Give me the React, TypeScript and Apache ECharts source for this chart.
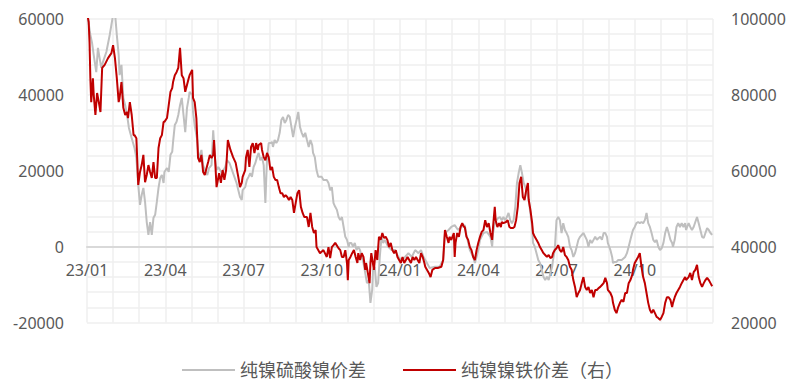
import React, { useEffect, useRef } from "react";
import * as echarts from "echarts";

const tickLabels = ["23/01", "23/04", "23/07", "23/10", "24/01", "24/04", "24/07", "24/10"];
const seriesNames = ["纯镍硫酸镍价差", "纯镍镍铁价差（右）"];

// 纯镍硫酸镍价差 (left axis)
const sulfateSpread: [string, number][] = [
  ["2023-01-01",61800],["2023-01-05",55800],["2023-01-07",53700],["2023-01-09",50500],["2023-01-12",46000],["2023-01-14",52400],["2023-01-16",49700],["2023-01-18",47100],["2023-01-20",48700],["2023-01-24",51300],["2023-01-28",55800],
  ["2023-02-01",61100],["2023-02-03",61800],["2023-02-05",55800],["2023-02-07",50500],["2023-02-08",45200],["2023-02-10",47900],["2023-02-12",39200],["2023-02-14",37300],["2023-02-16",34700],["2023-02-18",31300],["2023-02-21",28600],["2023-02-24",26000],["2023-02-26",23400],["2023-02-28",16300],
  ["2023-03-02",11000],["2023-03-04",13600],["2023-03-06",15500],["2023-03-08",11800],["2023-03-10",6500],["2023-03-12",3100],["2023-03-14",6500],["2023-03-16",3100],["2023-03-18",7600],["2023-03-20",8400],["2023-03-22",11800],["2023-03-24",15500],["2023-03-26",18100],["2023-03-28",18900],["2023-03-30",16800],["2023-03-31",19700],
  ["2023-04-03",20700],["2023-04-05",19700],["2023-04-07",24200],["2023-04-09",25000],["2023-04-10",27600],["2023-04-12",32100],["2023-04-14",32900],["2023-04-16",34700],["2023-04-18",37300],["2023-04-20",39200],["2023-04-22",34700],["2023-04-24",30200],["2023-04-26",36500],["2023-04-28",39200],["2023-04-29",40800],
  ["2023-05-02",40000],["2023-05-03",35500],["2023-05-05",32000],["2023-05-08",28100],["2023-05-10",22800],["2023-05-13",25500],["2023-05-15",21500],["2023-05-17",20200],["2023-05-20",18900],["2023-05-22",20700],["2023-05-25",21500],["2023-05-27",30700],["2023-05-29",23600],["2023-05-31",20200],
  ["2023-06-02",21000],["2023-06-04",20200],["2023-06-06",19400],["2023-06-08",20200],["2023-06-10",21000],["2023-06-12",22800],["2023-06-15",22000],["2023-06-19",19400],["2023-06-23",16800],["2023-06-27",13100],["2023-06-29",12300],["2023-06-30",14900],
  ["2023-07-03",15700],["2023-07-05",17600],["2023-07-07",18400],["2023-07-09",19400],["2023-07-11",18400],["2023-07-13",21000],["2023-07-15",22000],["2023-07-17",23600],["2023-07-19",24700],["2023-07-21",22800],["2023-07-23",23600],["2023-07-25",21500],["2023-07-27",11500],["2023-07-29",23600],["2023-07-31",27300],
  ["2023-08-02",27300],["2023-08-04",27600],["2023-08-05",26300],["2023-08-07",28100],["2023-08-09",27300],["2023-08-11",28100],["2023-08-13",30000],["2023-08-15",33400],["2023-08-17",34200],["2023-08-19",32600],["2023-08-21",33400],["2023-08-23",34700],["2023-08-25",34200],["2023-08-27",31500],["2023-08-29",28900],["2023-08-31",31500],
  ["2023-09-02",33400],["2023-09-04",35500],["2023-09-06",31500],["2023-09-08",30000],["2023-09-10",28900],["2023-09-12",30000],["2023-09-14",28100],["2023-09-16",26300],["2023-09-18",28100],["2023-09-20",26800],["2023-09-21",24700],["2023-09-23",23600],["2023-09-25",20200],["2023-09-27",18400],["2023-09-29",18400],
  ["2023-10-01",18400],["2023-10-03",17600],["2023-10-07",17600],["2023-10-09",16800],["2023-10-11",14900],["2023-10-13",15700],["2023-10-15",11500],["2023-10-17",10500],["2023-10-19",9700],["2023-10-21",7800],["2023-10-23",7000],["2023-10-25",7800],["2023-10-27",5200],["2023-10-29",2600],["2023-10-31",1800],
  ["2023-11-02",0],["2023-11-03",1000],["2023-11-05",1000],["2023-11-07",0],["2023-11-09",1000],["2023-11-11",-900],["2023-11-13",0],["2023-11-15",-900],["2023-11-17",-2700],["2023-11-19",-4300],["2023-11-21",-6900],["2023-11-23",-9600],["2023-11-25",-8800],["2023-11-27",-14800],["2023-11-29",-11400],["2023-11-30",-6100],
  ["2023-12-02",-5300],["2023-12-04",-10600],["2023-12-06",-9600],["2023-12-08",-2700],["2023-12-10",2600],["2023-12-12",1000],["2023-12-14",1800],["2023-12-18",0],["2023-12-22",-900],["2023-12-26",-900],["2023-12-30",-2700],
  ["2024-01-03",-3500],["2024-01-07",-2700],["2024-01-11",-1700],["2024-01-15",-2700],["2024-01-19",-900],["2024-01-23",-1700],["2024-01-26",-900],["2024-01-29",-2700],
  ["2024-02-02",-4300],["2024-02-05",-5600],["2024-02-11",-5300],["2024-02-16",-5300],["2024-02-20",-3500],["2024-02-22",3600],["2024-02-26",4400],["2024-02-29",5200],
  ["2024-03-04",5700],["2024-03-08",4400],["2024-03-12",5200],["2024-03-16",5700],["2024-03-18",3100],["2024-03-22",-900],["2024-03-26",-2700],["2024-03-28",-4300],["2024-03-30",-2700],
  ["2024-04-01",-900],["2024-04-03",1800],["2024-04-07",3600],["2024-04-11",3900],["2024-04-15",2600],["2024-04-17",0],["2024-04-18",3600],["2024-04-20",6200],["2024-04-22",7000],["2024-04-24",7600],["2024-04-26",7800],["2024-04-28",7000],["2024-04-30",7800],
  ["2024-05-02",7000],["2024-05-04",7800],["2024-05-06",8900],["2024-05-08",7000],["2024-05-10",6200],["2024-05-12",7000],["2024-05-14",10500],["2024-05-16",16800],["2024-05-18",19400],["2024-05-20",21500],["2024-05-22",19400],["2024-05-24",16800],["2024-05-26",15700],["2024-05-28",14100],["2024-05-30",12300],["2024-05-31",10500],
  ["2024-06-03",5200],["2024-06-04",1000],["2024-06-06",0],["2024-06-08",-1700],["2024-06-10",-3500],["2024-06-12",-4300],["2024-06-14",-6100],["2024-06-16",-7900],["2024-06-18",-8800],["2024-06-20",-7900],["2024-06-22",-8800],["2024-06-24",-6900],["2024-06-26",-5300],["2024-06-27",-3500],["2024-06-29",-900],
  ["2024-07-01",7000],["2024-07-03",7800],["2024-07-05",7000],["2024-07-07",3600],["2024-07-09",6200],["2024-07-11",4400],["2024-07-13",3600],["2024-07-15",2600],["2024-07-17",0],["2024-07-19",-900],["2024-07-21",-2700],["2024-07-23",-1700],["2024-07-25",0],["2024-07-27",1800],["2024-07-29",2600],
  ["2024-08-02",3600],["2024-08-06",1800],["2024-08-08",0],["2024-08-10",1800],["2024-08-12",1000],["2024-08-14",1800],["2024-08-16",2600],["2024-08-18",1800],["2024-08-20",2300],["2024-08-22",2600],["2024-08-24",1800],["2024-08-26",3600],["2024-08-28",3600],["2024-08-30",2600],["2024-08-31",1000],
  ["2024-09-03",-900],["2024-09-05",-2700],["2024-09-06",-4300],["2024-09-08",-4000],["2024-09-10",-4000],["2024-09-12",-3500],["2024-09-16",-3500],["2024-09-20",-2700],["2024-09-22",-1700],["2024-09-24",0],["2024-09-26",1800],["2024-09-28",3600],["2024-09-29",4400],
  ["2024-10-01",5200],["2024-10-03",6200],["2024-10-05",6500],["2024-10-07",6200],["2024-10-09",6500],["2024-10-11",6200],["2024-10-13",7000],["2024-10-15",8900],["2024-10-17",6200],["2024-10-19",5200],["2024-10-21",3600],["2024-10-23",1800],["2024-10-25",1200],["2024-10-27",1800],["2024-10-29",0],["2024-10-31",-900],
  ["2024-11-02",-400],["2024-11-04",1000],["2024-11-06",3600],["2024-11-08",5200],["2024-11-10",3600],["2024-11-12",1800],["2024-11-14",1000],["2024-11-15",0],["2024-11-17",1800],["2024-11-19",5200],["2024-11-21",6200],["2024-11-23",5200],["2024-11-25",6200],["2024-11-27",5200],["2024-11-29",6200],["2024-11-30",4400],
  ["2024-12-03",6200],["2024-12-05",5200],["2024-12-07",4400],["2024-12-09",5200],["2024-12-11",6500],["2024-12-13",7800],["2024-12-15",6200],["2024-12-17",4400],["2024-12-19",2600],["2024-12-21",2300],["2024-12-23",3600],["2024-12-25",4900],["2024-12-27",4400],["2024-12-29",3600],["2024-12-31",3100],
];

// 纯镍镍铁价差 (right axis)
const ferroSpread: [string, number][] = [
  ["2023-01-01",101800],["2023-01-03",99200],["2023-01-04",93900],["2023-01-05",84400],["2023-01-06",78100],["2023-01-08",84400],["2023-01-09",80000],["2023-01-11",74700],["2023-01-13",80500],["2023-01-15",78100],["2023-01-17",75500],["2023-01-19",87100],["2023-01-22",87900],["2023-01-26",89700],["2023-01-30",91000],
  ["2023-02-01",93100],["2023-02-03",89700],["2023-02-05",84400],["2023-02-07",78100],["2023-02-08",79200],["2023-02-10",83400],["2023-02-12",76600],["2023-02-14",74700],["2023-02-16",75500],["2023-02-17",73900],["2023-02-19",78100],["2023-02-21",74700],["2023-02-23",69400],["2023-02-24",69400],["2023-02-26",68600],["2023-02-28",56300],
  ["2023-03-02",59700],["2023-03-04",61500],["2023-03-06",64200],["2023-03-08",57000],["2023-03-10",58900],["2023-03-12",61500],["2023-03-14",59700],["2023-03-16",58100],["2023-03-18",62300],["2023-03-20",58100],["2023-03-22",58100],["2023-03-24",66000],["2023-03-26",68600],["2023-03-28",69400],["2023-03-30",72900],["2023-03-31",72900],
  ["2023-04-03",73900],["2023-04-05",77300],["2023-04-07",80800],["2023-04-09",81800],["2023-04-10",83400],["2023-04-12",85200],["2023-04-14",86000],["2023-04-16",87100],["2023-04-18",92400],["2023-04-20",85200],["2023-04-22",84400],["2023-04-24",80800],["2023-04-26",82600],["2023-04-28",84400],["2023-04-29",85200],
  ["2023-05-02",86600],["2023-05-03",79200],["2023-05-05",78100],["2023-05-07",73900],["2023-05-09",63400],["2023-05-11",62300],["2023-05-13",64200],["2023-05-15",59700],["2023-05-17",58900],["2023-05-19",60700],["2023-05-21",62300],["2023-05-23",64200],["2023-05-25",63400],["2023-05-27",64200],["2023-05-28",68100],["2023-05-31",55700],
  ["2023-06-03",59400],["2023-06-05",56800],["2023-06-07",60200],["2023-06-09",57600],["2023-06-11",60200],["2023-06-13",68100],["2023-06-16",65500],["2023-06-19",63600],["2023-06-22",62100],["2023-06-25",58400],["2023-06-27",55700],["2023-06-29",56800],["2023-06-30",58400],
  ["2023-07-03",60200],["2023-07-04",63600],["2023-07-06",65500],["2023-07-08",61000],["2023-07-10",66300],["2023-07-12",67300],["2023-07-14",64700],["2023-07-16",67300],["2023-07-18",65500],["2023-07-19",66800],["2023-07-22",67300],["2023-07-23",65500],["2023-07-25",63600],["2023-07-27",62800],["2023-07-29",64700],["2023-07-31",63600],
  ["2023-08-02",60200],["2023-08-04",61000],["2023-08-06",58400],["2023-08-08",57600],["2023-08-10",57600],["2023-08-12",55700],["2023-08-14",54100],["2023-08-16",54100],["2023-08-18",53100],["2023-08-20",53600],["2023-08-22",53100],["2023-08-24",52300],["2023-08-26",53100],["2023-08-28",52300],["2023-08-30",48900],
  ["2023-09-01",51500],["2023-09-03",54100],["2023-09-05",54900],["2023-09-07",50500],["2023-09-09",48900],["2023-09-11",47800],["2023-09-14",47800],["2023-09-16",45200],["2023-09-18",48900],["2023-09-20",45200],["2023-09-22",43600],["2023-09-24",44400],["2023-09-25",39900],["2023-09-29",38300],
  ["2023-10-03",39100],["2023-10-07",37300],["2023-10-09",39900],["2023-10-11",37000],["2023-10-13",39900],["2023-10-15",40400],["2023-10-17",41000],["2023-10-21",39600],["2023-10-23",39100],["2023-10-25",37300],["2023-10-27",37300],["2023-10-29",39100],["2023-10-31",35700],
  ["2023-11-01",31200],["2023-11-02",36500],["2023-11-04",37300],["2023-11-06",38300],["2023-11-08",39100],["2023-11-10",37300],["2023-11-12",35700],["2023-11-13",38300],["2023-11-15",36500],["2023-11-17",38300],["2023-11-19",37300],["2023-11-21",33900],["2023-11-22",35700],["2023-11-24",33100],["2023-11-26",30400],["2023-11-27",35700],["2023-11-28",38300],
  ["2023-12-01",33900],["2023-12-03",39100],["2023-12-05",36500],["2023-12-07",42600],["2023-12-09",41800],["2023-12-11",43600],["2023-12-13",42300],["2023-12-15",42600],["2023-12-17",41800],["2023-12-19",39900],["2023-12-21",41000],["2023-12-23",39100],["2023-12-25",38300],["2023-12-27",39100],["2023-12-29",37300],["2023-12-31",36500],
  ["2024-01-02",35700],["2024-01-04",37300],["2024-01-06",35700],["2024-01-08",36500],["2024-01-10",37300],["2024-01-12",36500],["2024-01-14",35700],["2024-01-16",37300],["2024-01-18",36500],["2024-01-20",37300],["2024-01-22",36500],["2024-01-24",35700],["2024-01-26",38300],["2024-01-28",37300],["2024-01-30",35700],["2024-01-31",34700],
  ["2024-02-04",33100],["2024-02-06",32000],["2024-02-08",33900],["2024-02-11",34400],["2024-02-14",34400],["2024-02-18",34700],["2024-02-20",36500],["2024-02-22",44400],["2024-02-24",42600],["2024-02-26",41000],["2024-02-27",42600],["2024-02-29",41800],
  ["2024-03-03",43600],["2024-03-04",37300],["2024-03-05",41000],["2024-03-07",43600],["2024-03-09",42600],["2024-03-11",45200],["2024-03-13",46200],["2024-03-15",45200],["2024-03-16",45200],["2024-03-18",42600],["2024-03-20",41800],["2024-03-22",39900],["2024-03-24",39100],["2024-03-26",37300],["2024-03-28",36500],["2024-03-30",39100],
  ["2024-04-01",41000],["2024-04-03",42600],["2024-04-05",43900],["2024-04-07",44400],["2024-04-09",47000],["2024-04-11",45200],["2024-04-13",46200],["2024-04-15",43600],["2024-04-17",41800],["2024-04-18",45200],["2024-04-20",50500],["2024-04-21",47000],["2024-04-23",45200],["2024-04-25",46200],["2024-04-27",45200],["2024-04-28",46500],["2024-04-30",46200],
  ["2024-05-03",46500],["2024-05-05",47000],["2024-05-07",45200],["2024-05-09",44900],["2024-05-11",44900],["2024-05-13",45200],["2024-05-15",47000],["2024-05-17",50500],["2024-05-19",56800],["2024-05-21",58400],["2024-05-23",53100],["2024-05-25",52300],["2024-05-27",54900],["2024-05-29",56800],["2024-05-30",52300],
  ["2024-06-01",49700],["2024-06-03",46200],["2024-06-04",43600],["2024-06-06",42600],["2024-06-08",41800],["2024-06-10",41000],["2024-06-12",39900],["2024-06-14",39100],["2024-06-16",38300],["2024-06-18",37800],["2024-06-20",37300],["2024-06-22",37800],["2024-06-24",37000],["2024-06-26",37300],["2024-06-27",38300],["2024-06-29",39100],
  ["2024-07-01",39600],["2024-07-03",40400],["2024-07-05",39100],["2024-07-07",38600],["2024-07-09",39900],["2024-07-11",37800],["2024-07-13",37300],["2024-07-15",36500],["2024-07-17",34700],["2024-07-19",33900],["2024-07-21",31200],["2024-07-23",29400],["2024-07-25",26700],["2024-07-27",27800],["2024-07-29",28600],["2024-07-31",30400],
  ["2024-08-02",32000],["2024-08-04",29400],["2024-08-06",28600],["2024-08-08",29400],["2024-08-10",27800],["2024-08-12",28600],["2024-08-14",26700],["2024-08-16",28600],["2024-08-18",28600],["2024-08-20",29100],["2024-08-22",29400],["2024-08-24",29900],["2024-08-26",30400],["2024-08-28",31800],["2024-08-30",30400],["2024-08-31",28600],
  ["2024-09-03",27800],["2024-09-05",26700],["2024-09-06",25200],["2024-09-08",23400],["2024-09-10",22500],["2024-09-12",24100],["2024-09-14",25200],["2024-09-16",26000],["2024-09-18",25500],["2024-09-20",27800],["2024-09-22",27800],["2024-09-24",30400],["2024-09-26",31200],["2024-09-28",32500],["2024-09-29",33900],
  ["2024-10-01",35700],["2024-10-03",36500],["2024-10-05",37300],["2024-10-07",38300],["2024-10-09",34700],["2024-10-11",32000],["2024-10-13",30400],["2024-10-15",27800],["2024-10-17",25200],["2024-10-19",23400],["2024-10-21",22500],["2024-10-23",23400],["2024-10-25",22500],["2024-10-27",21500],["2024-10-29",21200],["2024-10-31",20700],
  ["2024-11-02",21500],["2024-11-04",22500],["2024-11-06",25200],["2024-11-08",26700],["2024-11-10",26700],["2024-11-12",26000],["2024-11-14",24100],["2024-11-15",25200],["2024-11-17",26700],["2024-11-19",27800],["2024-11-21",28600],["2024-11-23",29400],["2024-11-25",30400],["2024-11-27",31200],["2024-11-29",32000],["2024-11-30",31200],
  ["2024-12-03",32000],["2024-12-05",33100],["2024-12-07",31200],["2024-12-09",33300],["2024-12-11",33900],["2024-12-13",35200],["2024-12-15",32000],["2024-12-17",30400],["2024-12-19",29400],["2024-12-21",30400],["2024-12-23",31200],["2024-12-25",31800],["2024-12-27",31200],["2024-12-29",30400],["2024-12-31",29600],
];

// month position on the axis: 0 = 2023-01-01, 24 = 2025-01-01
function monthPos(s: string): number {
  const [y, m, d] = s.split("-").map(Number);
  const dim = new Date(y, m, 0).getDate();
  return (y - 2023) * 12 + (m - 1) + (d - 1) / dim;
}

const FONT = "'Noto Sans', 'Noto Sans CJK SC', sans-serif";
const TXT = "#595959";
const GRID = "#efefef";
const plain = (v: number) => String(v);

export default function App() {
  const ref = useRef<HTMLDivElement>(null);
  useEffect(() => {
    if (!ref.current) return;
    const chart = echarts.init(ref.current, undefined, { renderer: "svg" });
    chart.setOption({
      animation: false,
      backgroundColor: "#ffffff",
      textStyle: { fontFamily: FONT },
      grid: { left: 87, right: 76, top: 19, bottom: 58.4, containLabel: false },
      legend: {
        data: seriesNames,
        left: 177,
        top: 356,
        padding: 5,
        icon: "rect",
        itemWidth: 53,
        itemHeight: 2,
        itemGap: 37,
        textStyle: { fontSize: 18, color: TXT, fontFamily: FONT, lineHeight: 18 },
      },
      xAxis: [
        {
          type: "value",
          min: 0,
          max: 24,
          interval: 1,
          axisLine: { onZero: true, lineStyle: { color: "#d9d9d9", width: 2 } },
          axisTick: { show: false },
          axisLabel: { show: false },
          splitLine: { show: true, lineStyle: { color: GRID, width: 1.5 } },
        },
        {
          type: "value",
          min: 0,
          max: 24,
          interval: 1,
          position: "bottom",
          offset: -75.6,
          axisLine: { show: false, onZero: false },
          axisTick: { show: false },
          splitLine: { show: false },
          axisLabel: {
            color: TXT,
            fontSize: 16,
            margin: 15,
            showMinLabel: true,
            showMaxLabel: true,
            formatter: (v: number) => (v % 3 === 0 && tickLabels[v / 3] ? tickLabels[v / 3] : ""),
          },
        },
      ],
      yAxis: [
        {
          type: "value",
          min: -20000,
          max: 60000,
          interval: 20000,
          axisLine: { show: false },
          axisTick: { show: false },
          axisLabel: { color: TXT, fontSize: 16, margin: 23, formatter: plain },
          splitLine: { show: true, lineStyle: { color: GRID, width: 1.5 } },
          minorTick: { show: false, splitNumber: 5 },
          minorSplitLine: { show: true, lineStyle: { color: GRID, width: 1.5 } },
        },
        {
          type: "value",
          min: 20000,
          max: 100000,
          interval: 20000,
          position: "right",
          axisLine: { show: false },
          axisTick: { show: false },
          axisLabel: { color: TXT, fontSize: 16, margin: 18, formatter: plain },
          splitLine: { show: false },
        },
      ],
      series: [
        {
          name: seriesNames[0],
          type: "line",
          xAxisIndex: 0,
          yAxisIndex: 0,
          symbol: "none",
          color: "#bfbfbf",
          lineStyle: { color: "#bfbfbf", width: 2 },
          data: sulfateSpread.map(([d, v]) => [monthPos(d), v]),
          z: 2,
        },
        {
          name: seriesNames[1],
          type: "line",
          xAxisIndex: 0,
          yAxisIndex: 1,
          symbol: "none",
          color: "#c00000",
          lineStyle: { color: "#c00000", width: 2 },
          data: ferroSpread.map(([d, v]) => [monthPos(d), v]),
          z: 3,
        },
      ],
    });
    return () => chart.dispose();
  }, []);
  return (
    <div
      ref={ref}
      style={{ position: "fixed", left: 0, top: 0, width: 789, height: 381, background: "#fff" }}
    />
  );
}
